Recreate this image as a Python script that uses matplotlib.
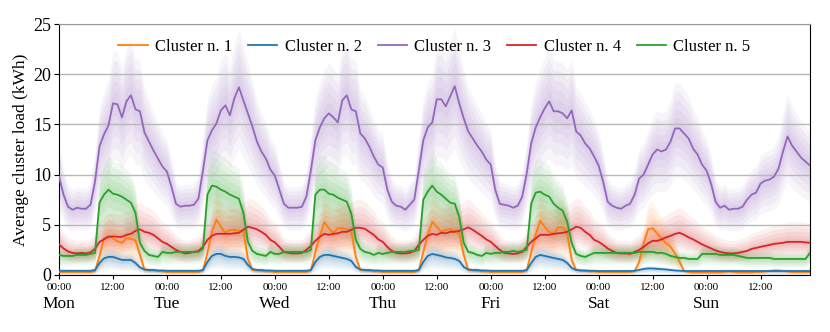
import numpy as np
import matplotlib
matplotlib.use("Agg")
import matplotlib.pyplot as plt
import matplotlib.transforms as mtransforms

plt.rcParams['font.family'] = ['Liberation Serif', 'DejaVu Serif']

# Hourly average load per cluster, one row per day (Mon..Sun)
cluster1 = [
    0.30, 0.30, 0.30, 0.30, 0.30, 0.30, 0.30, 0.30, 0.40, 1.90, 3.65, 3.90, 3.65, 3.35, 3.20, 3.65, 3.60, 3.45, 2.00, 0.55, 0.45, 0.45, 0.40, 0.35,
    0.30, 0.30, 0.30, 0.30, 0.30, 0.30, 0.30, 0.30, 0.45, 2.20, 4.30, 5.50, 4.80, 4.20, 4.50, 4.50, 4.40, 4.40, 1.60, 0.50, 0.45, 0.40, 0.35, 0.35,
    0.30, 0.30, 0.30, 0.30, 0.30, 0.30, 0.30, 0.30, 0.45, 2.30, 3.90, 5.25, 4.65, 4.20, 4.65, 4.65, 4.55, 4.30, 1.80, 0.50, 0.45, 0.40, 0.35, 0.35,
    0.30, 0.30, 0.30, 0.30, 0.30, 0.30, 0.30, 0.30, 0.45, 2.30, 4.00, 5.30, 4.80, 4.30, 4.50, 4.55, 4.40, 4.15, 2.00, 0.50, 0.45, 0.40, 0.35, 0.35,
    0.30, 0.30, 0.30, 0.30, 0.30, 0.30, 0.30, 0.30, 0.45, 2.30, 4.00, 5.40, 4.80, 4.30, 4.10, 4.75, 4.75, 4.15, 1.50, 0.50, 0.45, 0.40, 0.35, 0.35,
    0.30, 0.30, 0.30, 0.30, 0.30, 0.30, 0.30, 0.30, 0.40, 1.30, 3.15, 4.55, 4.65, 4.15, 3.65, 3.15, 2.80, 2.15, 1.30, 0.40, 0.30, 0.25, 0.25, 0.25,
    0.25, 0.25, 0.25, 0.25, 0.30, 0.35, 0.30, 0.25, 0.25, 0.25, 0.25, 0.30, 0.30, 0.35, 0.40, 0.45, 0.45, 0.40, 0.35, 0.30, 0.30, 0.30, 0.30, 0.30,
]
cluster2 = [
    0.42, 0.42, 0.42, 0.42, 0.42, 0.42, 0.42, 0.42, 0.50, 1.20, 1.65, 1.80, 1.80, 1.65, 1.50, 1.50, 1.50, 1.20, 0.75, 0.55, 0.50, 0.50, 0.45, 0.45,
    0.42, 0.42, 0.42, 0.42, 0.42, 0.42, 0.42, 0.42, 0.50, 1.30, 1.90, 2.10, 2.10, 1.90, 1.80, 1.80, 1.75, 1.60, 1.00, 0.60, 0.50, 0.50, 0.45, 0.45,
    0.42, 0.42, 0.42, 0.42, 0.42, 0.42, 0.42, 0.42, 0.50, 1.30, 1.80, 2.00, 2.00, 1.90, 1.80, 1.70, 1.60, 1.40, 0.80, 0.55, 0.50, 0.50, 0.45, 0.45,
    0.42, 0.42, 0.42, 0.42, 0.42, 0.42, 0.42, 0.42, 0.50, 1.30, 1.90, 2.10, 2.00, 1.90, 1.75, 1.70, 1.60, 1.40, 0.80, 0.55, 0.50, 0.50, 0.45, 0.45,
    0.42, 0.42, 0.42, 0.42, 0.42, 0.42, 0.42, 0.42, 0.50, 1.20, 1.80, 2.00, 1.90, 1.80, 1.70, 1.60, 1.50, 1.20, 0.70, 0.50, 0.45, 0.45, 0.42, 0.42,
    0.40, 0.40, 0.40, 0.40, 0.40, 0.40, 0.40, 0.40, 0.42, 0.50, 0.60, 0.65, 0.65, 0.62, 0.60, 0.55, 0.50, 0.45, 0.42, 0.40, 0.40, 0.40, 0.40, 0.40,
    0.40, 0.40, 0.40, 0.40, 0.40, 0.40, 0.40, 0.40, 0.40, 0.40, 0.40, 0.40, 0.40, 0.40, 0.40, 0.40, 0.40, 0.40, 0.40, 0.40, 0.40, 0.40, 0.40, 0.40,
]
cluster3 = [
    9.8, 8.0, 6.8, 6.5, 6.7, 6.6, 6.6, 7.0, 9.3, 12.8, 14.0, 14.9, 17.1, 17.0, 15.7, 17.3, 17.9, 16.5, 16.3, 14.2, 13.3, 12.4, 11.6, 10.8,
    10.3, 8.8, 7.1, 6.8, 6.9, 6.9, 7.0, 7.6, 10.4, 13.4, 14.4, 15.1, 16.4, 16.9, 15.9, 17.6, 18.7, 17.4, 16.1, 14.8, 13.3, 12.3, 11.6, 10.5,
    9.9, 8.5, 7.1, 6.7, 6.7, 6.7, 6.8, 7.8, 10.4, 13.4, 14.7, 15.6, 16.1, 15.7, 15.2, 17.4, 17.9, 16.5, 16.3, 14.1, 13.6, 12.8, 11.8, 11.0,
    10.7, 8.5, 7.3, 6.9, 6.8, 6.5, 7.0, 7.5, 10.4, 13.4, 14.7, 15.2, 17.5, 17.5, 16.8, 17.8, 18.8, 17.1, 15.6, 14.3, 13.6, 12.9, 12.3, 11.5,
    11.0, 8.5, 7.1, 7.0, 6.9, 6.7, 6.9, 7.8, 10.1, 13.1, 14.7, 15.7, 16.6, 17.3, 16.3, 16.3, 16.1, 15.6, 16.4, 14.3, 13.9, 13.1, 12.6, 11.8,
    10.9, 9.3, 7.3, 6.9, 6.7, 6.6, 6.9, 7.1, 8.0, 9.6, 10.0, 11.0, 12.0, 12.5, 12.3, 12.5, 13.3, 14.6, 14.6, 14.1, 13.6, 12.6, 12.0, 11.0,
    10.4, 9.1, 7.3, 6.7, 6.9, 6.5, 6.6, 6.6, 6.8, 7.5, 8.0, 8.2, 9.1, 9.4, 9.5, 9.8, 10.6, 12.3, 13.8, 12.9, 12.3, 11.7, 11.3, 10.9,
]
cluster4 = [
    3.05, 2.65, 2.35, 2.20, 2.15, 2.20, 2.15, 2.25, 2.60, 3.30, 3.55, 3.80, 3.85, 3.80, 3.80, 4.00, 4.10, 4.40, 4.55, 4.30, 4.20, 4.00, 3.65, 3.30,
    3.10, 2.80, 2.50, 2.30, 2.15, 2.20, 2.30, 2.40, 2.80, 3.50, 3.90, 4.10, 4.10, 4.10, 4.10, 4.15, 4.20, 4.50, 4.80, 4.70, 4.55, 4.30, 4.00, 3.50,
    3.25, 2.80, 2.30, 2.20, 2.15, 2.15, 2.20, 2.50, 2.90, 3.40, 3.80, 4.10, 4.00, 4.10, 4.15, 4.30, 4.30, 4.50, 4.70, 4.70, 4.60, 4.30, 4.00, 3.55,
    3.30, 2.80, 2.40, 2.20, 2.15, 2.15, 2.20, 2.40, 3.00, 3.50, 3.90, 4.10, 4.00, 4.20, 4.15, 4.30, 4.30, 4.40, 4.55, 4.75, 4.50, 4.20, 3.90, 3.55,
    3.30, 2.90, 2.50, 2.20, 2.15, 2.10, 2.15, 2.30, 2.80, 3.30, 3.65, 4.00, 4.00, 4.00, 4.10, 4.15, 4.20, 4.30, 4.55, 4.80, 4.70, 4.30, 4.00, 3.50,
    3.30, 3.00, 2.65, 2.40, 2.20, 2.15, 2.15, 2.10, 2.30, 2.50, 2.80, 3.15, 3.40, 3.40, 3.55, 3.75, 3.90, 4.10, 4.20, 4.00, 3.75, 3.55, 3.30, 3.05,
    2.85, 2.65, 2.45, 2.30, 2.20, 2.15, 2.15, 2.20, 2.30, 2.40, 2.60, 2.70, 2.80, 2.90, 3.00, 3.10, 3.15, 3.20, 3.30, 3.30, 3.30, 3.30, 3.25, 3.20,
]
cluster5 = [
    2.0, 1.9, 1.9, 1.9, 2.0, 2.0, 2.0, 2.1, 2.2, 7.2, 8.0, 8.5, 8.1, 8.0, 7.8, 7.5, 7.2, 6.2, 3.2, 2.4, 2.0, 1.9, 1.8, 2.3,
    2.2, 2.2, 2.3, 2.3, 2.3, 2.3, 2.3, 2.3, 2.6, 8.0, 8.9, 8.8, 8.5, 8.3, 8.0, 7.8, 7.6, 6.2, 3.3, 2.4, 2.1, 2.0, 1.9, 2.3,
    2.1, 2.1, 2.3, 2.3, 2.3, 2.3, 2.3, 2.3, 2.5, 8.0, 8.5, 8.5, 8.1, 8.0, 7.7, 7.5, 7.3, 6.1, 3.5, 2.6, 2.3, 2.2, 2.0, 2.2,
    2.1, 2.2, 2.3, 2.3, 2.3, 2.3, 2.4, 2.4, 2.5, 7.5, 8.3, 8.9, 8.3, 8.0, 7.6, 7.2, 7.1, 5.8, 3.2, 2.3, 2.2, 2.0, 1.9, 2.2,
    2.1, 2.2, 2.2, 2.3, 2.3, 2.4, 2.3, 2.4, 2.5, 7.1, 8.2, 8.3, 8.0, 7.8, 7.1, 6.7, 6.4, 5.3, 3.2, 2.1, 1.9, 1.8, 2.0, 2.2,
    2.2, 2.2, 2.2, 2.2, 2.2, 2.2, 2.2, 2.2, 2.2, 2.3, 2.3, 2.3, 2.3, 2.2, 2.2, 2.1, 1.9, 1.8, 1.7, 1.7, 1.6, 1.6, 1.6, 2.1,
    2.1, 2.1, 2.1, 2.0, 2.0, 2.0, 2.0, 1.9, 1.8, 1.7, 1.7, 1.7, 1.7, 1.7, 1.7, 1.6, 1.6, 1.6, 1.6, 1.6, 1.6, 1.6, 1.6, 2.2,
]

series = [cluster1, cluster2, cluster3, cluster4, cluster5]
labels = ["Cluster n. 1", "Cluster n. 2", "Cluster n. 3", "Cluster n. 4", "Cluster n. 5"]
colors = ["#ff7f0e", "#1f77b4", "#9467bd", "#d62728", "#2ca02c"]

# spread of the shaded percentile layers, as ratio to the cluster mean (inner -> outer)
band_upper = [
    [1.10, 1.20, 1.32, 1.45, 1.58],
    [1.08, 1.16, 1.25, 1.35, 1.47],
    [1.07, 1.13, 1.19, 1.25, 1.31],
    [1.10, 1.20, 1.32, 1.45, 1.60],
    [1.08, 1.16, 1.24, 1.32, 1.40],
]
band_lower = [
    [0.88, 0.76, 0.62, 0.48, 0.35],
    [0.88, 0.76, 0.62, 0.48, 0.35],
    [0.93, 0.87, 0.81, 0.74, 0.67],
    [0.92, 0.84, 0.76, 0.68, 0.60],
    [0.90, 0.80, 0.70, 0.60, 0.50],
]

days = ["Mon", "Tue", "Wed", "Thu", "Fri", "Sat", "Sun"]

hours = np.arange(len(cluster1))

fig = plt.figure(figsize=(8.3, 3.32), dpi=100)
ax = fig.add_axes([0.0711, 0.1717, 0.9048, 0.756])

# shaded bands
for vals, col, up, lo in zip(series, colors, band_upper, band_lower):
    v = np.array(vals)
    for u, l in zip(up, lo):
        ax.fill_between(hours, v * l, v * u, color=col, alpha=0.065, lw=0, zorder=1)

for vals, col, lab in zip(series, colors, labels):
    ax.plot(hours, vals, color=col, lw=1.3, label=lab, zorder=3)

ax.set_xlim(0, hours[-1])
ax.set_ylim(0, 25)
ax.set_yticks([0, 5, 10, 15, 20, 25])
ax.tick_params(axis='y', labelsize=13, length=3.5, pad=2)
ax.grid(axis='y', color='#b8b8b8', lw=1.0, zorder=0)
ax.spines['top'].set_color('#999999')

xt = np.arange(0, 168, 12)
ax.set_xticks(xt)
ax.set_xticklabels(["00:00" if t % 24 == 0 else "12:00" for t in xt], fontsize=8)
ax.tick_params(axis='x', length=3, pad=3)

trans = mtransforms.blended_transform_factory(ax.transData, ax.transAxes)
for i, d in enumerate(days):
    ax.text(i * 24, -0.115, d, transform=trans, ha='center', va='center', fontsize=12.5)

ax.set_ylabel("Average cluster load (kWh)", fontsize=12.5, labelpad=3)

ax.legend(loc='upper center', bbox_to_anchor=(0.5, 1.0), ncol=5, frameon=False,
          fontsize=12, handlelength=1.75, columnspacing=0.95, handletextpad=0.45)

fig.savefig("out.png", dpi=100)
